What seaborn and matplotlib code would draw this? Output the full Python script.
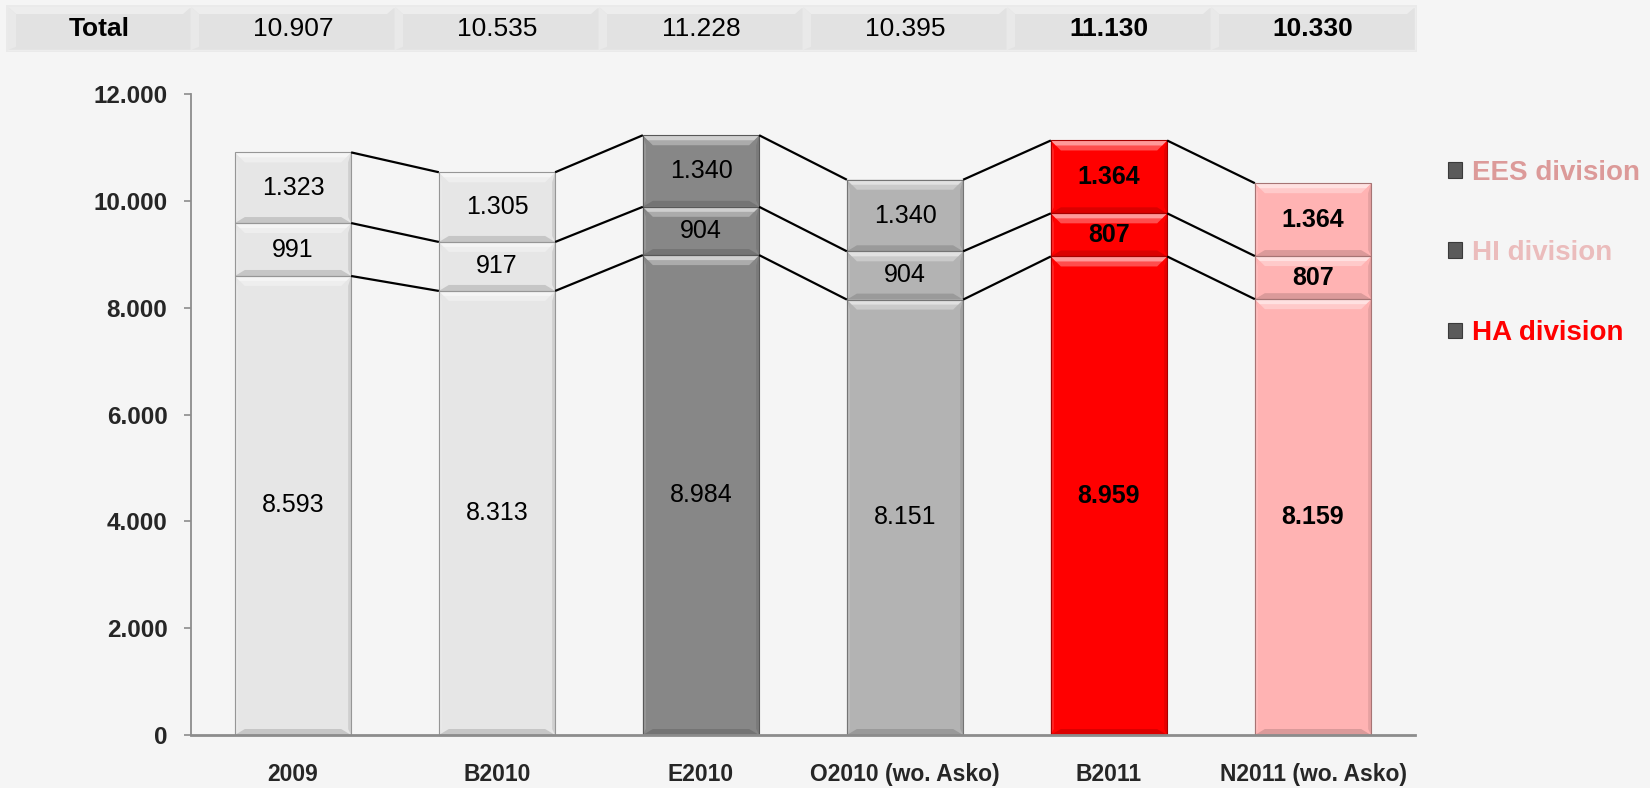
import numpy as np
import pandas as pd
import matplotlib
matplotlib.use("Agg")
import matplotlib.pyplot as plt
import seaborn as sns
from matplotlib.patches import Polygon, Rectangle, Patch
from matplotlib.transforms import blended_transform_factory
from matplotlib.colors import to_rgb

# ---------------- data ----------------
categories = ["2009", "B2010", "E2010", "O2010 (wo. Asko)", "B2011", "N2011 (wo. Asko)"]
ha_division = [8593, 8313, 8984, 8151, 8959, 8159]
hi_division = [991, 917, 904, 904, 807, 807]
ees_division = [1323, 1305, 1340, 1340, 1364, 1364]
bar_colors = ["#E6E6E6", "#E6E6E6", "#878787", "#B3B3B3", "#FF0000", "#FFB3B3"]
bold_columns = [False, False, False, False, True, True]
legend_labels = ["EES division", "HI division", "HA division"]
legend_colors = ["#DC9A99", "#EBBCBC", "#FF0000"]
y_ticks = [0, 2000, 4000, 6000, 8000, 10000, 12000]
total_label = "Total"

BG = "#F5F5F5"


def fmt(v):
    return f"{int(v):,}".replace(",", ".")


def blend(c, other, t):
    a = np.array(to_rgb(c))
    b = np.array(to_rgb(other))
    return tuple(a * (1 - t) + b * t)


df = pd.DataFrame({"category": categories, "ha": ha_division,
                   "hi": hi_division, "ees": ees_division})
df["mid"] = df["ha"] + df["hi"]
df["total"] = df["mid"] + df["ees"]

sns.set_theme(style="white")
plt.rcParams["font.family"] = ["Liberation Sans", "DejaVu Sans"]

W, H = 1650, 788
fig = plt.figure(figsize=(W / 100, H / 100), dpi=100, facecolor=BG)
ax = fig.add_axes([191 / W, 53 / H, 1224 / W, 641 / H], facecolor=BG)

bar_w = 0.57
for col in ["total", "mid", "ha"]:
    sns.barplot(data=df, x="category", y=col, hue="category", order=categories,
                hue_order=categories, palette=bar_colors, saturation=1,
                width=bar_w, legend=False, linewidth=0, ax=ax, zorder=2)

ax.set_xlim(-0.5, 5.5)
ax.set_ylim(0, 12000)

# pixel -> data conversion
xpx = 6.0 / 1224
ypx = 12000 / 641


def bevel(xc, y0, y1, color):
    x0, x1 = xc - bar_w / 2, xc + bar_w / 2
    dy_t = min(10 * ypx, (y1 - y0) / 3)
    dy_b = min(6 * ypx, (y1 - y0) / 4)
    dx = 10 * xpx
    sx = 3 * xpx
    light = blend(color, "white", 0.6)
    mid_light = blend(color, "white", 0.3)
    dark = blend(color, "black", 0.14)
    sl = blend(color, "white", 0.15)
    sd = blend(color, "black", 0.1)
    polys = [
        ([(x0, y0), (x0 + sx, y0 + dy_b), (x0 + sx, y1 - dy_t), (x0, y1)], sl),
        ([(x1, y0), (x1 - sx, y0 + dy_b), (x1 - sx, y1 - dy_t), (x1, y1)], sd),
        ([(x0, y1), (x1, y1), (x1 - dx, y1 - dy_t), (x0 + dx, y1 - dy_t)], mid_light),
        ([(x0, y1), (x1, y1), (x1 - dx * 0.5, y1 - dy_t * 0.5), (x0 + dx * 0.5, y1 - dy_t * 0.5)], light),
        ([(x0, y0), (x1, y0), (x1 - dx, y0 + dy_b), (x0 + dx, y0 + dy_b)], dark),
    ]
    for pts, c in polys:
        ax.add_patch(Polygon(pts, closed=True, facecolor=c, edgecolor="none", zorder=3))
    ax.add_patch(Rectangle((x0, y0), bar_w, y1 - y0, facecolor="none",
                           edgecolor=blend(color, "black", 0.35), lw=0.8, zorder=4))


for i in range(len(categories)):
    c = bar_colors[i]
    segs = [(0, df["ha"][i], df["ha"][i]),
            (df["ha"][i], df["mid"][i], df["hi"][i]),
            (df["mid"][i], df["total"][i], df["ees"][i])]
    for y0, y1, v in segs:
        bevel(i, y0, y1, c)
        ax.text(i, (y0 + y1) / 2, fmt(v), ha="center", va="center", fontsize=18,
                fontweight="bold" if bold_columns[i] else "normal", color="black", zorder=6)

# connector lines
for col in ["ha", "mid", "total"]:
    vals = df[col].values
    for i in range(len(categories) - 1):
        ax.plot([i + bar_w / 2, i + 1 - bar_w / 2], [vals[i], vals[i + 1]],
                color="black", lw=1.6, zorder=5, solid_capstyle="butt")

# axes styling
sns.despine(ax=ax, top=True, right=True)
ax.spines["left"].set_color("#8C8C8C")
ax.spines["left"].set_linewidth(1.3)
ax.spines["bottom"].set_color("#8C8C8C")
ax.spines["bottom"].set_linewidth(2.0)
ax.spines["bottom"].set_zorder(7)
ax.set_yticks(y_ticks)
ax.set_yticklabels([fmt(t) for t in y_ticks])
ax.tick_params(axis="y", left=True, length=5, width=1.2, color="#8C8C8C", pad=12,
               labelsize=17.5)
ax.tick_params(axis="x", bottom=False, length=0, pad=20, labelsize=16.5)
for lbl in ax.get_yticklabels() + ax.get_xticklabels():
    lbl.set_fontweight("bold")
ax.set_xlabel("")
ax.set_ylabel("")

# total strip on top
trans = blended_transform_factory(ax.transData, fig.transFigure)
sy0, sy1 = 1 - 50 / H, 1 - 7 / H
left_edge = -0.5 - 183 / 204
cells = [(left_edge, -0.5, total_label, True)] + [
    (i - 0.5, i + 0.5, fmt(df["total"][i]), bold_columns[i]) for i in range(len(categories))]
ax.add_patch(Rectangle((left_edge - 0.01, sy0 - 0.003), 5.5 - left_edge + 0.02,
                       sy1 - sy0 + 0.006, transform=trans, clip_on=False,
                       facecolor="#EAEAEA", edgecolor="none", zorder=1))
for (a, b, txt, bold) in cells:
    ax.add_patch(Rectangle((a, sy0), b - a, sy1 - sy0, transform=trans, clip_on=False,
                           facecolor="#E2E2E2", edgecolor="#EDEDED", lw=1.0, zorder=2))
    bh = 7 / H
    bx = 8 / 204
    ax.add_patch(Polygon([(a, sy1), (b, sy1), (b - bx, sy1 - bh), (a + bx, sy1 - bh)],
                         closed=True, transform=trans, clip_on=False,
                         facecolor="#EDEDED", edgecolor="none", zorder=3))
    ax.add_patch(Polygon([(a, sy1), (a + bx, sy1 - bh), (a + bx, sy0 + 0.004), (a, sy0)],
                         closed=True, transform=trans, clip_on=False,
                         facecolor="#E9E9E9", edgecolor="none", zorder=3))
    ax.text((a + b) / 2, (sy0 + sy1) / 2 - 0.001, txt, transform=trans, ha="center",
            va="center", fontsize=19, fontweight="bold" if bold else "normal",
            color="black", clip_on=False, zorder=4)

# legend
handles = [Patch(facecolor="#5A5A5A", edgecolor="#3A3A3A", lw=0.8) for _ in legend_labels]
leg = ax.legend(handles, legend_labels, loc="upper left",
                bbox_to_anchor=(1448 / W, 1 - 160 / H), bbox_transform=fig.transFigure,
                frameon=False, prop=dict(weight="bold", size=20), labelcolor=legend_colors,
                handlelength=0.5, handleheight=0.5, handletextpad=0.35,
                labelspacing=1.95, borderaxespad=0, borderpad=0)

fig.savefig("out.png", dpi=100, facecolor=BG)
